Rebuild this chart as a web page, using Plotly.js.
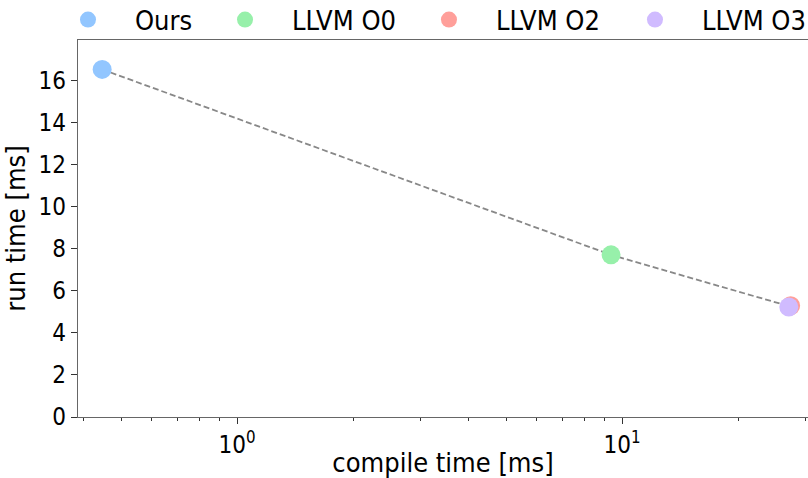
<!DOCTYPE html>
<html><head><meta charset="utf-8">
<script src="https://cdn.plot.ly/plotly-3.0.1.min.js"></script>
<style>body{margin:0;padding:0;background:#fff}</style>
</head><body>
<div id="chart" style="width:808px;height:478px"></div>
<script>
const names = ["Ours", "LLVM O0", "LLVM O2", "LLVM O3"];
const compileTime = [0.446, 9.36, 27.4, 27.1];
const runTime = [16.55, 7.72, 5.30, 5.24];
const colors = ["#92c6ff", "#97f0aa", "#ff9f9a", "#d0bbff"];
const lineX = [0.446, 9.36, 27.2];
const lineY = [16.55, 7.72, 5.27];

const legendIds = ["legend", "legend2", "legend3", "legend4"];
const legendX = [-0.0507, 0.1644, 0.4438, 0.726];

const traces = [{
  x: lineX, y: lineY, mode: "lines", showlegend: false, hoverinfo: "skip",
  line: {color: "#888888", width: 1.8, dash: "6px,3px"}
}];
names.forEach((n, i) => traces.push({
  x: [compileTime[i]], y: [runTime[i]], mode: "markers", name: n,
  legend: legendIds[i],
  marker: {color: colors[i], size: 19}
}));

const FONT = "DejaVu Sans Condensed, DejaVu Sans";
const layout = {
  width: 808, height: 478,
  margin: {l: 78, r: 0, t: 40, b: 61, autoexpand: false},
  paper_bgcolor: "#fff", plot_bgcolor: "#fff",
  font: {family: FONT, size: 24, color: "#000"},
  showlegend: true,
  xaxis: {
    type: "log", range: [Math.log10(0.386), Math.log10(30.4)],
    showline: true, mirror: true, linecolor: "#666", linewidth: 1.3,
    showgrid: false, zeroline: false,
    tickmode: "array", tickvals: [1, 10], ticktext: ["10<sup>0</sup>", "10<sup>1</sup>"],
    ticks: "outside", ticklen: 6, tickcolor: "#333", tickfont: {size: 24},
    minor: {tickmode: "array", tickvals: [0.4,0.5,0.6,0.7,0.8,0.9,2,3,4,5,6,7,8,9,20,30],
            ticks: "outside", ticklen: 3, tickcolor: "#333", showgrid: false},
    title: {text: "compile time [ms]", font: {size: 27}, standoff: 4}
  },
  yaxis: {
    range: [0, 17.95], showline: true, mirror: false, linecolor: "#666", linewidth: 1.3,
    showgrid: false, zeroline: false, dtick: 2, tick0: 0,
    ticks: "outside", ticklen: 6, tickcolor: "#333", tickfont: {size: 24},
    title: {text: "run time [ms]", font: {size: 27}, standoff: 6}
  }
};
legendIds.forEach((id, i) => {
  layout[id] = {orientation: "h", x: legendX[i], xanchor: "left", y: 1.053, yanchor: "middle",
                itemwidth: 84, font: {size: 27}, bgcolor: "rgba(0,0,0,0)"};
});
Plotly.newPlot("chart", traces, layout, {displayModeBar: false, staticPlot: true});
</script>
</body></html>
